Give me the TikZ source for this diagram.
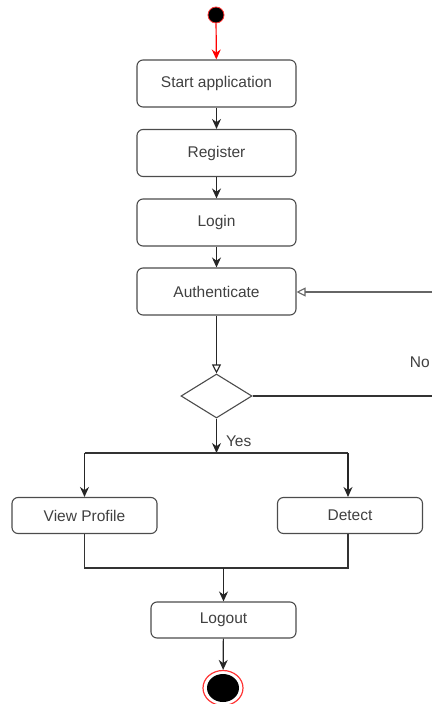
\documentclass[tikz,border=0pt]{standalone}
\usepackage{fontspec}
\setmainfont{Liberation Sans}
\usetikzlibrary{positioning,arrows.meta,shapes.geometric}

\begin{document}
\begin{tikzpicture}[
        x=1pt, y=-1pt,
        every node/.style={font=\fontsize{15.5}{18}\selectfont, text=black!75},
        actionNode/.style={rectangle, rounded corners=6pt, draw=black!70, line width=1.1pt,
            minimum width=159pt, minimum height=47pt, inner sep=0pt},
        smallAction/.style={actionNode, minimum width=145pt, minimum height=36pt},
        decisionNode/.style={diamond, draw=black!70, line width=1.1pt, aspect=1.6,
            minimum width=71pt, minimum height=44pt, inner sep=0pt},
        flow/.style={draw=black!85, line width=1.2pt, -{Stealth[length=10pt, width=9pt]}},
        backFlow/.style={draw=black!60, line width=1.1pt, -{Triangle[open, length=9pt, width=9pt]}},
        plainLine/.style={draw=black!80, line width=1.2pt}
    ]
        \useasboundingbox (0,0) rectangle (432,704);
        \clip (0,0) rectangle (432,704);

        % Start and end
        \node[circle, fill=black, draw=red!80, line width=0.8pt, minimum size=16pt, inner sep=0pt] (start) at (216,15) {};
        \node[ellipse, draw=red!80, line width=1.2pt, minimum width=40pt, minimum height=35pt, inner sep=0pt] (stop) at (223,688) {};
        \node[ellipse, fill=black, minimum width=32pt, minimum height=28pt, inner sep=0pt] (stopDot) at (223,688) {};

        % Actions
        \node[actionNode] (startApp) at (216.5,83.5) {Start application};
        \node[actionNode] (register) at (216.5,153) {Register};
        \node[actionNode] (login) at (216.5,222.5) {Login};
        \node[actionNode] (auth) at (216.5,291.5) {Authenticate};
        \node[decisionNode] (check) at (216.5,396) {};
        \node[smallAction] (profile) at (84.5,515.5) {View Profile};
        \node[smallAction] (detect) at (350,515.5) {Detect};
        \node[smallAction] (logout) at (223.5,620) {Logout};

        % Helper points
        \coordinate (split) at (216.5,453);
        \coordinate (splitL) at (84.5,453);
        \coordinate (splitR) at (348,453);
        \coordinate (joinL) at (84.5,568);
        \coordinate (joinR) at (348,568);
        \coordinate (join) at (223.5,568);
        \coordinate (noEnd) at (432,396);
        \coordinate (backEnd) at (432,292);

        % Labels
        \node[right=6pt] at (split |- 0,441) (yesLabel) {Yes};
        \node[anchor=east, inner sep=1pt] (noLabel) at (431,362) {No};

        % Edges
        \draw[flow, draw=red] (start) -- (startApp);
        \draw[flow] (startApp) -- (register);
        \draw[flow] (register) -- (login);
        \draw[flow] (login) -- (auth);
        \draw[backFlow, draw=black!85] (auth) -- (check);
        \draw[plainLine] (check.east) -- (noEnd);
        \draw[backFlow] (backEnd) -- (auth.east |- backEnd);
        \draw[flow] (check) -- (split);
        \draw[plainLine] (splitL) -- (splitR);
        \draw[flow] (splitL) -- (profile);
        \draw[flow] (splitR) -- (detect.north -| splitR);
        \draw[plainLine] (profile) -- (joinL) -- (joinR) -- (detect.south -| joinR);
        \draw[flow] (join) -- (logout);
        \draw[flow] (logout) -- (stop);
    \end{tikzpicture}
\end{document}
